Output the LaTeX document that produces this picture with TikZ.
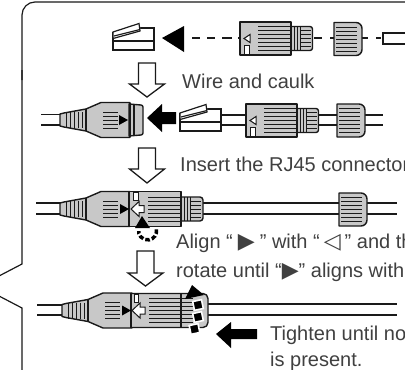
\documentclass[tikz,border=0pt]{standalone}
\usepackage{fontspec}
\setmainfont{Liberation Sans}
\newfontfamily\symfnt{DejaVu Sans}
\definecolor{partgray}{HTML}{C8C8C8}
\definecolor{txtgray}{HTML}{404040}
\definecolor{inkk}{HTML}{1A1A1A}
\newcommand{\tri}[2]{\kern#1pt{\symfnt\fontsize{22}{22}\selectfont #2}\kern#1pt}
\tikzset{
 part/.style={draw=inkk,line width=1.4pt,fill=partgray,line join=round},
 rib/.style={draw=inkk,line width=.8pt},
 wire/.style={draw=inkk,line width=1.2pt},
 solidblk/.style={fill=black,draw=none},
 hollow/.style={draw=inkk,line width=1.3pt,fill=white,line join=miter},
 whitepart/.style={draw=inkk,line width=1pt,fill=white},
 lbl/.style={anchor=base west,inner sep=0pt,text=txtgray,font=\fontsize{20}{24}\selectfont},
 dashw/.style={draw=inkk,line width=2pt}
}
% RJ45 plug, origin at left of centre line
\newcommand{\rjplug}[2]{\begin{scope}[shift={(#1,#2)}]
 \draw[line width=1.3pt,draw=inkk,fill=white] (0,-6) -- (0,12) -- (41,12) -- (41,-10) -- (26,-10);
 \draw[line width=1.3pt,draw=inkk] (0,3) -- (41,3);
 \fill[white] (0,-6) -- (27,-14) -- (27,-7) -- (0,0) -- cycle;
 \draw[line width=1.2pt,draw=inkk] (0,-6) -- (26,-14.5) -- (27,-7) -- (0,0.5) -- cycle;
 \draw[line width=1.2pt,draw=inkk] (1,-2) -- (27,-8.5);
\end{scope}}
% threaded coupler, origin at left of centre line
\newcommand{\coupler}[2]{\begin{scope}[shift={(#1,#2)}]
 \draw[part] (51,-12) -- (70,-12) arc (-90:0:2.5) -- (72.5,9.5) arc (0:90:2.5) -- (51,12) -- cycle;
 \foreach \x in {54,57,60} \draw[rib] (\x,-12) -- (\x,12);
 \foreach \y in {-8,-4,0,4,8} \draw[rib] (60,\y) -- (71,\y);
 \draw[part] (0,-16.5) rectangle (51,16.5);
 \foreach \y in {-12,-8,-4,0,4,8,12} \draw[rib] (18,\y) -- (51,\y);
 \draw[whitepart] (4,0) -- (10,-4) -- (10,4) -- cycle;
 \fill[white] (4,7) rectangle (9,15.5);
 \draw[inkk,line width=.6pt] (4,7) rectangle (9,15.5);
\end{scope}}
% nut, origin at left of centre line
\newcommand{\nutpart}[2]{\begin{scope}[shift={(#1,#2)}]
 \draw[part] (0,-16.5) -- (22,-16.5) arc (-90:0:6) -- (28,10.5) arc (0:90:6) -- (0,16.5) -- cycle;
 \foreach \y in {-12,-8,-4,0,4,8,12} \draw[rib] (2,\y) -- (23,\y);
\end{scope}}
% tapered strain relief and cone, origin x=60 at centre line
\newcommand{\malepart}[3]{\begin{scope}[shift={(#1,#2)}]
 \draw[part] (0,-6) -- (4,-7) -- (26,-11) -- (41,-17.5) -- (#3,-17.5) -- (#3,17.5) -- (41,17.5) -- (26,11) -- (4,7) -- (0,6) -- cycle;
 \foreach \x in {6,10,14,18,22} \draw[rib] (\x,-8) -- (\x,8);
 \draw[line width=1.2pt,draw=inkk] (26,-11) -- (26,11);
 \foreach \y in {-8,-4,0,4,8} \draw[rib] (43,\y) -- (58,\y);
\end{scope}}
\newcommand{\hollowdown}[4]{% x centre, top, wing y, tip
 \draw[hollow] (#1-8.5,#2) -- (#1+8.5,#2) -- (#1+8.5,#3) -- (#1+17.5,#3) -- (#1,#4) -- (#1-17.5,#3) -- (#1-8.5,#3) -- cycle;}
\begin{document}
\begin{tikzpicture}[x=1pt,y=-1pt]
\useasboundingbox (0,0) rectangle (405,370);
\clip (0,0) rectangle (405,370);
\fill[white] (0,0) rectangle (405,370);
% frame
\draw[draw=inkk,line width=1.2pt,rounded corners=13pt] (406,2) -- (22,2) -- (22,80);
\draw[draw=inkk,line width=1.2pt] (22,70) -- (22,264) -- (-1,276);
\draw[draw=inkk,line width=1.2pt] (-1,296) -- (22,308) -- (22,371);
% row 1
\rjplug{113}{38}
\fill[solidblk] (162,38) -- (184,26) -- (184,52) -- cycle;
\foreach \a/\b in {192/200,207/215,222/232,238/242,314/322,330/335,362/368,376/381}
  \draw[dashw] (\a,38) -- (\b,38);
\coupler{240}{38.5}
\nutpart{334}{39}
\draw[line width=1.2pt,draw=inkk] (406,33) -- (383,33) -- (383,44) -- (406,44);
\hollowdown{147}{63}{84}{97}
\node[lbl] (wire) at (182,88) {Wire and caulk};
% row 2
\draw[wire] (41,114.5) -- (60,114.5) (41,125) -- (60,125);
\malepart{60}{120}{70}
\draw[part] (129,104) -- (141,105) arc (-90:0:2) -- (143,133) arc (0:90:2) -- (129,136) -- cycle;
\draw[line width=1.2pt,draw=inkk] (130,103) -- (130,137) (134,104) -- (134,136);
\fill[solidblk] (128,120) -- (119,115) -- (119,125) -- cycle;
\fill[solidblk] (147,118) -- (162,104) -- (162,112) -- (176,112) -- (176,124) -- (162,124) -- (162,132) -- cycle;
\draw[wire] (221,115) -- (246,115) (221,125) -- (246,125) (318,115) -- (337,115) (318,125) -- (337,125) (365,115) -- (383,115) (365,125) -- (383,125);
\rjplug{180}{119}
\coupler{246}{120.5}
\nutpart{337}{120.5}
\hollowdown{147}{148}{169}{183}
\node[lbl] (insert) at (180,171) {Insert the RJ45 connector};
% row 3
\draw[wire] (36,203) -- (60,203) (36,214) -- (60,214);
\draw[wire] (203,203) -- (397,203) (203,214) -- (397,214);
\malepart{60}{209}{70}
\begin{scope}[shift={(129,209)}]
 \draw[part] (52,-12) -- (71,-12) arc (-90:0:3) -- (74,9) arc (0:90:3) -- (52,12) -- cycle;
 \foreach \x in {55,58,61} \draw[rib] (\x,-12) -- (\x,12);
 \foreach \y in {-8,-4,0,4,8} \draw[rib] (61,\y) -- (72,\y);
 \draw[part] (0,-17.5) rectangle (52,17.5);
 \foreach \y in {-12,-8,-4,0,4,8,12} \draw[rib] (19,\y) -- (52,\y);
 \draw[line width=.8pt,draw=inkk,fill=white] (4,-16.5) rectangle (9,-9);
\end{scope}
\draw[line width=2pt,draw=inkk] (129,191) -- (129,227);
\fill[solidblk] (129,209) -- (120,204) -- (120,214) -- cycle;
\draw[whitepart] (131,209) -- (139,201.5) -- (139,205.5) -- (144,205.5) -- (144,212.5) -- (139,212.5) -- (139,216.5) -- cycle;
\nutpart{339}{209.5}
\draw[draw=black,line width=3.5pt,dash pattern=on 4.5pt off 2.2pt] (156.4,229.4) arc (-10:190:9);
\fill[white] (131,227) -- (153,227) -- (153,231) -- (131,231) -- cycle;
\fill[solidblk] (142,216) -- (150,228) -- (135,228) -- cycle;
\hollowdown{145.5}{251}{273}{286}
\node[lbl] (align) at (176,248) {Align “\tri{5}{▶}” with “\tri{4}{◁}” and the};
\node[lbl] (rotate) at (176,277) {rotate until “\tri{0}{▶}” aligns with};
% row 4
\draw[wire] (37,305) -- (62,305) (37,315) -- (62,315);
\draw[wire] (208,304) -- (397,304) (208,315) -- (397,315);
\malepart{62}{310.5}{70}
\begin{scope}[shift={(131,310.5)}]
 \draw[part] (0,-17) -- (72,-17) arc (-90:0:5) -- (77,12) arc (0:90:5) -- (0,17) -- cycle;
 \foreach \y in {-12,-8,-4,0,4,8,12} \draw[rib] (18,\y) -- (62,\y);
 \draw[line width=.8pt,draw=inkk,fill=white] (3,-16) rectangle (7,-8.5);
 \draw[line width=1.4pt,draw=inkk] (50,-17) -- (50,17);
\end{scope}
\draw[line width=2pt,draw=inkk] (131,293) -- (131,328);
\fill[solidblk] (131,310.5) -- (122,305.5) -- (122,315.5) -- cycle;
\draw[whitepart] (132,310.5) -- (140,303) -- (140,307) -- (145,307) -- (145,314) -- (140,314) -- (140,318) -- cycle;
\fill[solidblk] (192,285) -- (204,295) -- (185,299) -- cycle;
\foreach \cx/\cy in {198/305,198/317,194.5/329}
  \draw[fill=black,draw=white,line width=1.6pt,rotate around={12:(\cx,\cy)}] (\cx-4.5,\cy-4.5) rectangle (\cx+4.5,\cy+4.5);
\fill[solidblk] (216,334) -- (231,322) -- (231,329) -- (257,329) -- (257,339) -- (231,339) -- (231,348) -- cycle;
\node[lbl] (tighten) at (270,340) {Tighten until no};
\node[lbl] (present) at (270,366) {is present.};
\end{tikzpicture}
\end{document}
